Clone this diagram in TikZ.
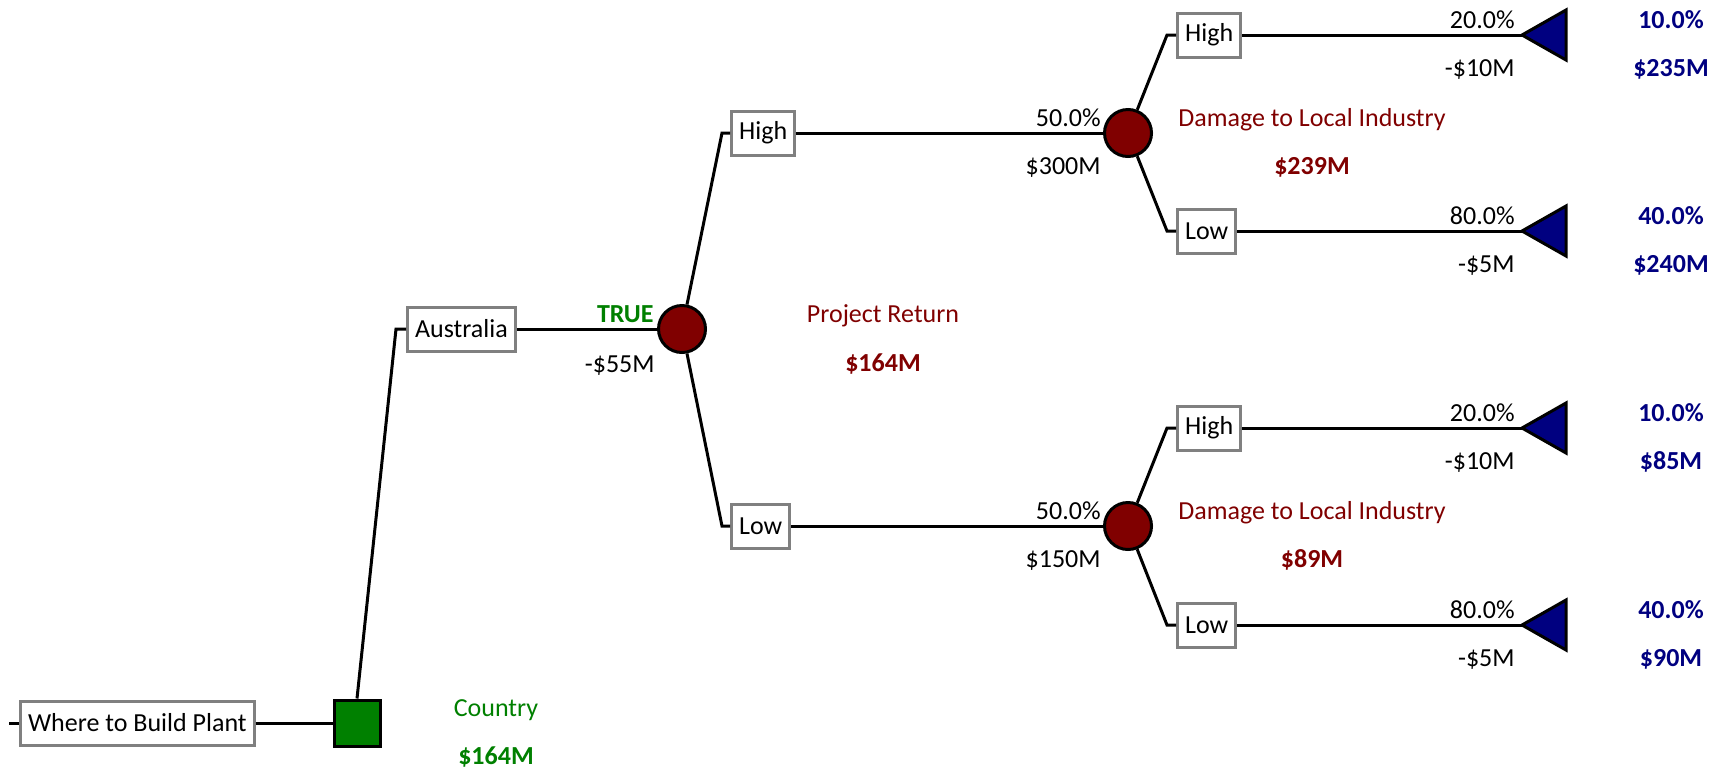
\documentclass[tikz,border=0pt]{standalone}
\usepackage{fontspec}
\setmainfont{Carlito}
\usepackage{tikz}
\usetikzlibrary{positioning}
\definecolor{DecGreen}{HTML}{008000}
\definecolor{ChanceRed}{HTML}{800000}
\definecolor{EndBlue}{HTML}{000080}
\definecolor{BoxGray}{HTML}{808080}
\newcommand{\treefont}{\fontsize{13}{15.6}\selectfont}

\begin{document}
\begin{tikzpicture}[x=0.5pt, y=-0.5pt,
  branch/.style={line width=1.5pt, black},
  lblbox/.style={draw=BoxGray, line width=1.5pt, fill=white, font=\treefont,
    minimum height=22pt, inner xsep=3.8pt, inner ysep=0pt, anchor=west},
  decnode/.style={draw=black, line width=1.5pt, fill=DecGreen, minimum size=23pt, inner sep=0pt},
  chnode/.style={circle, draw=black, line width=1.5pt, fill=ChanceRed, minimum size=23.5pt, inner sep=0pt},
  endtri/.style={draw=black, line width=1.5pt, fill=EndBlue, line join=miter},
  numtxt/.style={font=\treefont, inner sep=0pt},
  valtxt/.style={font=\treefont\bfseries, inner sep=0pt}]
\useasboundingbox (0,0) rectangle (1711,772);
% Decision
\coordinate (stub) at (9,723);
\node[lblbox] (where) at (19,723) {Where to Build Plant};
\node[decnode] (country) at (357,723) {};
\node[lblbox] (aus) at (406,329) {Australia};
\draw[branch] (stub) -- (where.west);
\draw[branch] (where.east) -- (country.west);
\draw[branch] (country.north) -- ([xshift=-5pt]aus.west) -- (aus.west);
\node[numtxt, DecGreen, anchor=base] (countryName) at (496,716) {Country};
\node[valtxt, DecGreen, anchor=base] (countryVal) at (496,764) {\$164M};
\node[valtxt, DecGreen, anchor=base east] (ausTrue) at (654,322) {TRUE};
\node[numtxt, anchor=base east] (ausCost) at (655,372) {-\$55M};
% Project return
\node[chnode] (proj) at (682,329) {};
\node[lblbox] (prHigh) at (730,133) {High};
\node[lblbox] (prLow) at (730,526) {Low};
\draw[branch] (aus.east) -- (proj.west);
\draw[branch] (proj) -- ([xshift=-4pt]prHigh.west) -- (prHigh.west);
\draw[branch] (proj) -- ([xshift=-4pt]prLow.west) -- (prLow.west);
\node[numtxt, ChanceRed, anchor=base] (projName) at (883,322) {Project Return};
\node[valtxt, ChanceRed, anchor=base] (projVal) at (883,371) {\$164M};
% Damage to local industry
\node[chnode] (dmgA) at (1128,133) {};
\node[chnode] (dmgB) at (1128,526) {};
\draw[branch] (prHigh.east) -- (dmgA.west);
\draw[branch] (prLow.east) -- (dmgB.west);
\node[numtxt, anchor=base east] (prHighPr) at (1101,126) {50.0\%};
\node[numtxt, anchor=base east] (prHighVal) at (1101,174) {\$300M};
\node[numtxt, anchor=base east] (prLowPr) at (1101,519) {50.0\%};
\node[numtxt, anchor=base east] (prLowVal) at (1101,567) {\$150M};
\node[numtxt, ChanceRed, anchor=base] (dmgAName) at (1312,126) {Damage to Local Industry};
\node[valtxt, ChanceRed, anchor=base] (dmgAVal) at (1312,174) {\$239M};
\node[numtxt, ChanceRed, anchor=base] (dmgBName) at (1312,519) {Damage to Local Industry};
\node[valtxt, ChanceRed, anchor=base] (dmgBVal) at (1312,567) {\$89M};
\node[lblbox] (aHigh) at (1176,35) {High};
\node[lblbox] (aLow) at (1176,231) {Low};
\node[lblbox] (bHigh) at (1176,428) {High};
\node[lblbox] (bLow) at (1176,625) {Low};
\foreach \src/\br in {dmgA/aHigh, dmgA/aLow, dmgB/bHigh, dmgB/bLow}
  \draw[branch] (\src) -- ([xshift=-4.5pt]\br.west) -- (\br.west);
% End nodes
\foreach \br/\yy/\pr/\cst/\jp/\val in {aHigh/35/20.0/-\$10M/10.0/\$235M,
    aLow/231/80.0/-\$5M/40.0/\$240M, bHigh/428/20.0/-\$10M/10.0/\$85M,
    bLow/625/80.0/-\$5M/40.0/\$90M} {
  \coordinate (\br-end) at (1522,\yy);
  \draw[branch] (\br.east) -- (\br-end);
  \draw[endtri] (\br-end) -- ++(44,-25) -- ++(0,50) -- cycle;
  \node[numtxt, anchor=base east] (\br-pr) at (1515,\yy-7) {\pr\%};
  \node[numtxt, anchor=base east] (\br-cost) at (1515,\yy+41) {\cst};
  \node[valtxt, EndBlue, anchor=base] (\br-jp) at (1671,\yy-7) {\jp\%};
  \node[valtxt, EndBlue, anchor=base] (\br-val) at (1671,\yy+41) {\val};
}
\end{tikzpicture}
\end{document}
